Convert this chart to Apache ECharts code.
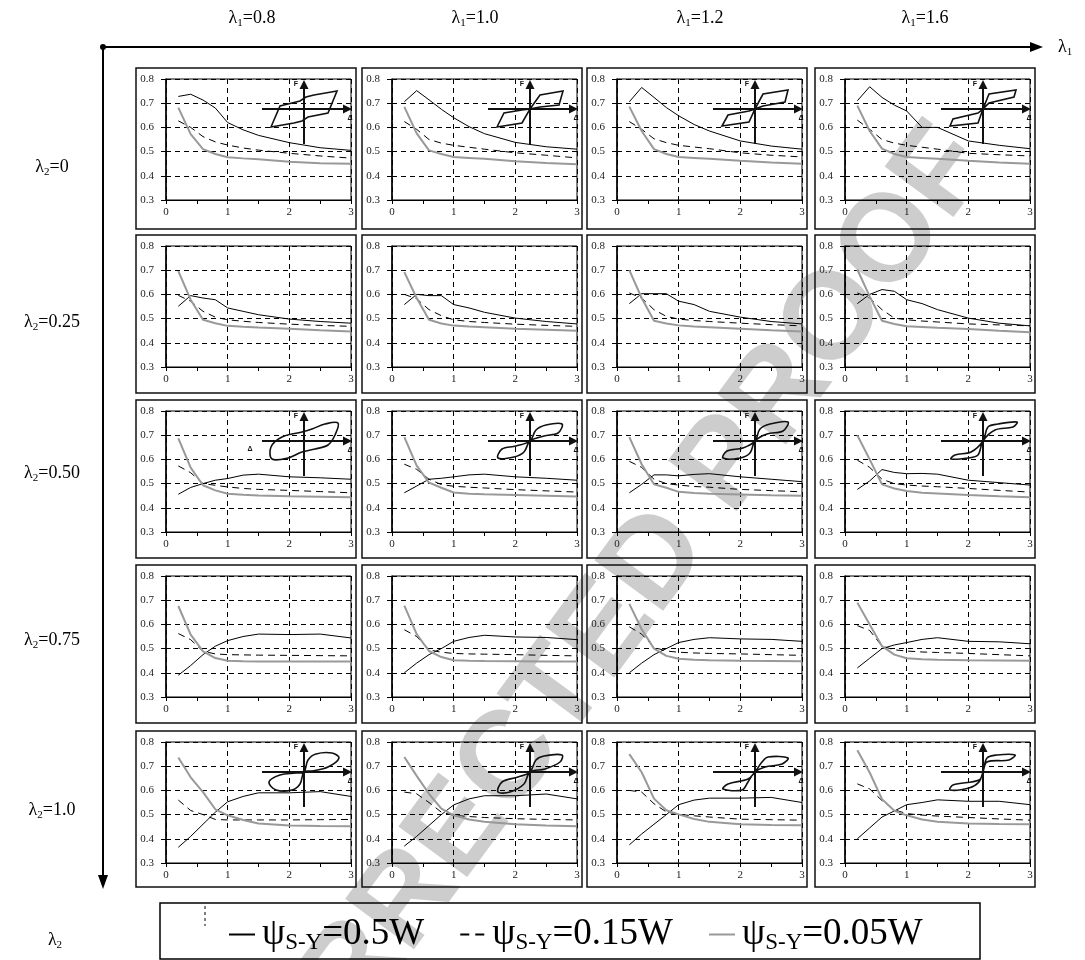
<!DOCTYPE html>
<html>
<head>
<meta charset="utf-8">
<script src="https://cdn.jsdelivr.net/npm/echarts@6/dist/echarts.min.js"></script>
<style>
  html, body { margin: 0; padding: 0; background: #fff; }
  #chart { width: 1085px; height: 960px; }
</style>
</head>
<body>
<div id="chart"></div>
<script>
// x positions of the computed points
const xs = [0.2, 0.4, 0.6, 0.8, 1.0, 1.25, 1.5, 2.0, 2.5, 3.0]
const lambda1 = ['0.8', '1.0', '1.2', '1.6']
const lambda2 = ['0', '0.25', '0.50', '0.75', '1.0']
const seriesNames = ['ψS-Y=0.5W', 'ψS-Y=0.15W', 'ψS-Y=0.05W']
const yTicks = [0.3, 0.4, 0.5, 0.6, 0.7, 0.8]
const xTicks = [0, 1, 2, 3]

// λ2 = 0
const solid_0 = [
  [0.728, 0.737, 0.713, 0.680, 0.620, 0.590, 0.567, 0.537, 0.516, 0.505],
  [0.706, 0.752, 0.714, 0.675, 0.640, 0.603, 0.574, 0.538, 0.520, 0.510],
  [0.706, 0.765, 0.724, 0.682, 0.648, 0.612, 0.585, 0.544, 0.523, 0.510],
  [0.710, 0.768, 0.724, 0.692, 0.668, 0.600, 0.600, 0.544, 0.526, 0.512]
]
const dash_0 = [
  [0.627, 0.600, 0.562, 0.540, 0.527, 0.515, 0.506, 0.493, 0.482, 0.473],
  [0.624, 0.592, 0.550, 0.535, 0.526, 0.518, 0.510, 0.495, 0.485, 0.474],
  [0.624, 0.592, 0.553, 0.537, 0.526, 0.519, 0.512, 0.495, 0.485, 0.478],
  [0.630, 0.592, 0.550, 0.535, 0.526, 0.518, 0.510, 0.493, 0.487, 0.482]
]
const gray_0 = [
  [0.682, 0.572, 0.510, 0.490, 0.477, 0.472, 0.468, 0.458, 0.452, 0.450],
  [0.685, 0.575, 0.505, 0.490, 0.478, 0.474, 0.470, 0.460, 0.453, 0.448],
  [0.686, 0.585, 0.510, 0.490, 0.478, 0.474, 0.470, 0.462, 0.455, 0.450],
  [0.690, 0.585, 0.512, 0.490, 0.478, 0.474, 0.470, 0.462, 0.455, 0.450]
]
// λ2 = 0.25
const solid_1 = [
  [0.551, 0.595, 0.585, 0.578, 0.544, 0.530, 0.516, 0.498, 0.488, 0.481],
  [0.558, 0.600, 0.595, 0.595, 0.558, 0.544, 0.526, 0.502, 0.488, 0.478],
  [0.562, 0.603, 0.603, 0.603, 0.572, 0.558, 0.530, 0.506, 0.488, 0.478],
  [0.562, 0.600, 0.620, 0.613, 0.578, 0.562, 0.537, 0.502, 0.481, 0.470]
]
const dash_1 = [
  [0.596, 0.572, 0.530, 0.506, 0.495, 0.489, 0.484, 0.477, 0.472, 0.468],
  [0.600, 0.582, 0.537, 0.512, 0.495, 0.488, 0.484, 0.477, 0.472, 0.468],
  [0.606, 0.585, 0.537, 0.509, 0.498, 0.492, 0.488, 0.481, 0.475, 0.470],
  [0.606, 0.585, 0.537, 0.502, 0.495, 0.490, 0.486, 0.478, 0.474, 0.470]
]
const gray_1 = [
  [0.696, 0.578, 0.495, 0.481, 0.470, 0.466, 0.463, 0.458, 0.452, 0.447],
  [0.692, 0.585, 0.495, 0.480, 0.471, 0.467, 0.464, 0.458, 0.454, 0.450],
  [0.700, 0.585, 0.491, 0.480, 0.472, 0.467, 0.464, 0.458, 0.452, 0.447],
  [0.703, 0.592, 0.491, 0.478, 0.468, 0.465, 0.462, 0.457, 0.450, 0.444]
]
// λ2 = 0.50
const solid_2 = [
  [0.456, 0.484, 0.500, 0.514, 0.521, 0.535, 0.539, 0.528, 0.524, 0.518],
  [0.462, 0.490, 0.518, 0.522, 0.528, 0.536, 0.539, 0.528, 0.522, 0.514],
  [0.462, 0.497, 0.536, 0.536, 0.532, 0.538, 0.541, 0.528, 0.518, 0.508],
  [0.476, 0.511, 0.558, 0.546, 0.541, 0.542, 0.539, 0.514, 0.504, 0.494]
]
const dash_2 = [
  [0.573, 0.545, 0.500, 0.493, 0.486, 0.480, 0.476, 0.472, 0.467, 0.462],
  [0.580, 0.559, 0.518, 0.496, 0.489, 0.485, 0.482, 0.475, 0.470, 0.465],
  [0.592, 0.567, 0.518, 0.500, 0.494, 0.488, 0.485, 0.476, 0.471, 0.466],
  [0.597, 0.567, 0.518, 0.500, 0.494, 0.490, 0.487, 0.480, 0.472, 0.465]
]
const gray_2 = [
  [0.687, 0.566, 0.493, 0.472, 0.458, 0.454, 0.451, 0.448, 0.446, 0.444],
  [0.692, 0.574, 0.504, 0.483, 0.463, 0.458, 0.456, 0.453, 0.450, 0.447],
  [0.692, 0.580, 0.497, 0.483, 0.466, 0.461, 0.458, 0.455, 0.452, 0.450],
  [0.700, 0.600, 0.497, 0.480, 0.469, 0.462, 0.459, 0.453, 0.448, 0.444]
]
// λ2 = 0.75
const solid_3 = [
  [0.390, 0.430, 0.475, 0.510, 0.533, 0.550, 0.560, 0.558, 0.560, 0.544],
  [0.400, 0.440, 0.475, 0.500, 0.530, 0.546, 0.555, 0.548, 0.546, 0.537],
  [0.400, 0.440, 0.475, 0.500, 0.525, 0.538, 0.545, 0.540, 0.538, 0.530],
  [0.420, 0.460, 0.500, 0.515, 0.525, 0.538, 0.545, 0.530, 0.528, 0.520]
]
const dash_3 = [
  [0.562, 0.537, 0.489, 0.478, 0.475, 0.474, 0.473, 0.472, 0.471, 0.470],
  [0.578, 0.550, 0.495, 0.485, 0.480, 0.478, 0.477, 0.475, 0.472, 0.470],
  [0.590, 0.560, 0.505, 0.490, 0.485, 0.482, 0.480, 0.478, 0.475, 0.472],
  [0.595, 0.575, 0.510, 0.495, 0.490, 0.486, 0.484, 0.480, 0.475, 0.470]
]
const gray_3 = [
  [0.676, 0.558, 0.489, 0.461, 0.450, 0.448, 0.447, 0.447, 0.447, 0.447],
  [0.678, 0.560, 0.490, 0.465, 0.452, 0.450, 0.449, 0.448, 0.447, 0.447],
  [0.685, 0.580, 0.500, 0.470, 0.458, 0.454, 0.452, 0.450, 0.449, 0.448],
  [0.690, 0.600, 0.510, 0.475, 0.460, 0.456, 0.454, 0.452, 0.451, 0.450]
]
// λ2 = 1.0
const solid_4 = [
  [0.365, 0.410, 0.460, 0.510, 0.553, 0.575, 0.590, 0.590, 0.595, 0.575],
  [0.370, 0.410, 0.455, 0.500, 0.540, 0.565, 0.578, 0.578, 0.585, 0.565],
  [0.375, 0.420, 0.460, 0.500, 0.541, 0.560, 0.568, 0.568, 0.571, 0.550],
  [0.400, 0.445, 0.490, 0.515, 0.541, 0.550, 0.561, 0.555, 0.555, 0.541]
]
const dash_4 = [
  [0.560, 0.517, 0.500, 0.480, 0.478, 0.478, 0.478, 0.478, 0.479, 0.480],
  [0.593, 0.586, 0.550, 0.510, 0.497, 0.492, 0.488, 0.483, 0.480, 0.478],
  [0.600, 0.593, 0.545, 0.511, 0.501, 0.495, 0.490, 0.481, 0.479, 0.477],
  [0.627, 0.606, 0.558, 0.520, 0.504, 0.498, 0.494, 0.488, 0.482, 0.477]
]
const gray_4 = [
  [0.736, 0.654, 0.593, 0.522, 0.497, 0.478, 0.463, 0.455, 0.453, 0.452],
  [0.738, 0.660, 0.586, 0.525, 0.497, 0.480, 0.470, 0.460, 0.455, 0.452],
  [0.750, 0.675, 0.566, 0.518, 0.501, 0.482, 0.470, 0.460, 0.457, 0.456],
  [0.766, 0.674, 0.564, 0.516, 0.497, 0.480, 0.470, 0.463, 0.461, 0.460]
]

const solidRows = [solid_0, solid_1, solid_2, solid_3, solid_4]
const dashRows = [dash_0, dash_1, dash_2, dash_3, dash_4]
const grayRows = [gray_0, gray_1, gray_2, gray_3, gray_4]

// layout of the panels
const colLeft = [136, 362, 587, 815]
const rowTop = [68, 235, 400, 565, 731]
const boxH = [161, 158, 158, 158, 156]
const boxW = 220
const plotW = 185, plotH = 121

// hysteresis sketches (offsets from the sketch axes crossing)
const loops = {
  0: [
    [[-33,18],[-24,-3],[-4,-8],[2,-12],[10,-14],[33,-18],[24,4],[4,8],[-2,12],[-10,14]],
    [[-33,18],[-26,4],[-8,1],[0,0],[10,-14],[33,-18],[29,-4],[10,-2],[0,0],[-8,14]],
    [[-33,17],[-27,6],[-6,2],[0,0],[8,-15],[33,-19],[30,-7],[8,-3],[0,0],[-6,13]],
    [[-33,17],[-30,10],[-5,4],[0,0],[6,-15],[33,-19],[31,-12],[6,-6],[0,0],[-5,14]]
  ],
  2: [
    [[-32,18],[-33,6],[-22,-4],[-2,-9],[8,-12],[21,-17],[34,-18],[31,-6],[24,4],[11,8],[-2,11],[-16,17]],
    [[0,0],[6,-11],[16,-16],[32,-17],[28,-8],[14,-5],[0,0],[-6,11],[-16,16],[-32,17],[-28,8],[-14,5]],
    [[0,0],[5,-12],[15,-17],[33,-19],[28,-10],[12,-7],[0,0],[-5,12],[-15,17],[-32,17],[-28,10],[-12,7]],
    [[0,0],[5,-14],[15,-17],[34,-19],[30,-14],[12,-11],[0,0],[-5,14],[-15,17],[-32,18],[-28,14],[-12,11]]
  ],
  4: [
    [[0,0],[4,-12],[12,-18],[28,-19],[35,-14],[24,-5],[8,-1],[0,0],[-4,12],[-12,18],[-28,18],[-35,10],[-24,3],[-8,1]],
    [[0,0],[6,-12],[14,-16],[32,-17],[30,-10],[15,-3],[0,0],[-6,12],[-20,20],[-32,20],[-28,10],[-12,5]],
    [[0,0],[7,-10],[13,-15],[33,-14],[27,-8],[10,-5],[0,0],[-7,10],[-13,18],[-32,17],[-27,12],[-7,7]],
    [[0,0],[4,-14],[14,-17],[32,-17],[26,-12],[4,-10],[0,0],[-4,10],[-14,16],[-33,18],[-30,13],[-4,8]]
  ]
}

const FONT = 'Liberation Serif'

function subText(main, sub, rest, size) {
  return {
    text: '{a|' + main + '}{s|' + sub + '}{a|' + rest + '}',
    rich: {
      a: { fontFamily: FONT, fontSize: size, fill: '#000', lineHeight: size + 4, verticalAlign: 'middle' },
      s: { fontFamily: FONT, fontSize: Math.round(size * 0.62), fill: '#000', lineHeight: Math.round(size * 0.62), verticalAlign: 'bottom' }
    }
  }
}

const grids = [], xAxes = [], yAxes = [], series = [], graphic = []

// watermark, behind everything
graphic.push({
  type: 'text', x: 592, y: 650, rotation: 0.936, z: -10, silent: true,
  style: { text: 'CORRECTED PROOF', fontFamily: 'Liberation Sans', fontWeight: 'bold', fontSize: 124,
    fill: '#cdcdcd', align: 'center', verticalAlign: 'middle' }
})

for (let r = 0; r < 5; r++) {
  for (let c = 0; c < 4; c++) {
    const g = r * 4 + c
    const px = colLeft[c] + 30, py = rowTop[r] + 11
    grids.push({ left: px, top: py, width: plotW, height: plotH, show: true,
      borderColor: '#000', borderWidth: 1, backgroundColor: 'transparent' })
    xAxes.push({
      type: 'value', gridIndex: g, min: xTicks[0], max: xTicks[xTicks.length - 1], interval: 1,
      axisLine: { show: true, onZero: false, lineStyle: { color: '#000', width: 1 } },
      axisTick: { show: true, length: 4, lineStyle: { color: '#000' } },
      minorTick: { show: true, splitNumber: 2, length: 4, lineStyle: { color: '#000' } },
      axisLabel: { fontFamily: FONT, fontSize: 11, color: '#222', margin: 7 },
      splitLine: { show: true, lineStyle: { color: '#000', width: 1, type: [5, 4] } }
    })
    yAxes.push({
      type: 'value', gridIndex: g, min: yTicks[0], max: yTicks[yTicks.length - 1], interval: 0.1,
      axisLine: { show: true, onZero: false, lineStyle: { color: '#000', width: 1.5 } },
      axisTick: { show: true, length: 5, lineStyle: { color: '#000' } },
      axisLabel: { fontFamily: FONT, fontSize: 11, color: '#222', margin: 12,
        formatter: v => v.toFixed(1) },
      splitLine: { show: true, lineStyle: { color: '#000', width: 1, type: [5, 4] } }
    })
    const common = { type: 'line', xAxisIndex: g, yAxisIndex: g, symbol: 'none', silent: true }
    series.push(Object.assign({}, common, {
      name: seriesNames[0], z: 3,
      data: xs.map((x, i) => [x, solidRows[r][c][i]]),
      lineStyle: { color: '#000', width: 1 }, itemStyle: { color: '#000' }
    }))
    series.push(Object.assign({}, common, {
      name: seriesNames[1], z: 3,
      data: xs.map((x, i) => [x, dashRows[r][c][i]]),
      lineStyle: { color: '#000', width: 1, type: [7, 5] }, itemStyle: { color: '#000' }
    }))
    series.push(Object.assign({}, common, {
      name: seriesNames[2], z: 4,
      data: xs.map((x, i) => [x, grayRows[r][c][i]]),
      lineStyle: { color: '#999', width: 2 }, itemStyle: { color: '#999' }
    }))

    // panel frame
    graphic.push({ type: 'rect', silent: true, z: 5,
      shape: { x: colLeft[c], y: rowTop[r], width: boxW, height: boxH[r] },
      style: { fill: 'none', stroke: '#111', lineWidth: 1.5 } })

    // hysteresis sketch
    if (loops[r]) {
      const cx = px + 138, cy = py + 30
      const pts = loops[r][c].map(p => [cx + p[0], cy + p[1]])
      graphic.push({ type: 'polygon', silent: true, z: 6,
        shape: { points: pts, smooth: r === 0 ? 0 : 0.35 },
        style: { fill: 'none', stroke: '#111', lineWidth: 1.6 } })
      graphic.push({ type: 'line', silent: true, z: 6,
        shape: { x1: px + 96, y1: cy, x2: px + 178, y2: cy },
        style: { stroke: '#111', lineWidth: 2 } })
      graphic.push({ type: 'polygon', silent: true, z: 6,
        shape: { points: [[px + 186, cy], [px + 177, cy - 4.5], [px + 177, cy + 4.5]] },
        style: { fill: '#111' } })
      graphic.push({ type: 'line', silent: true, z: 6,
        shape: { x1: cx, y1: py + 10, x2: cx, y2: py + 65 },
        style: { stroke: '#111', lineWidth: 2 } })
      graphic.push({ type: 'polygon', silent: true, z: 6,
        shape: { points: [[cx, py + 1], [cx - 4.5, py + 10], [cx + 4.5, py + 10]] },
        style: { fill: '#111' } })
      graphic.push({ type: 'text', silent: true, z: 6, x: cx - 8, y: py + 5,
        style: { text: 'F', fontFamily: 'Liberation Sans', fontWeight: 'bold', fontSize: 7, fill: '#111',
          align: 'center', verticalAlign: 'middle' } })
      graphic.push({ type: 'text', silent: true, z: 6, x: px + 184, y: cy + 9,
        style: { text: 'Δ', fontFamily: 'Liberation Sans', fontWeight: 'bold', fontSize: 7, fill: '#111',
          align: 'center', verticalAlign: 'middle' } })
      if (r === 2 && c === 0) {
        graphic.push({ type: 'text', silent: true, z: 6, x: px + 84, y: cy + 8,
          style: { text: 'Δ', fontFamily: 'Liberation Sans', fontWeight: 'bold', fontSize: 7, fill: '#111',
            align: 'center', verticalAlign: 'middle' } })
      }
    }
  }
}

// main λ1 / λ2 axes
graphic.push({ type: 'line', silent: true, shape: { x1: 103, y1: 47, x2: 1032, y2: 47 },
  style: { stroke: '#000', lineWidth: 2 } })
graphic.push({ type: 'polygon', silent: true, shape: { points: [[1043, 47], [1030, 42], [1030, 52]] },
  style: { fill: '#000' } })
graphic.push({ type: 'circle', silent: true, shape: { cx: 103, cy: 47, r: 3 }, style: { fill: '#000' } })
graphic.push({ type: 'line', silent: true, shape: { x1: 103, y1: 47, x2: 103, y2: 876 },
  style: { stroke: '#000', lineWidth: 2 } })
graphic.push({ type: 'polygon', silent: true, shape: { points: [[103, 889], [98, 875], [108, 875]] },
  style: { fill: '#000' } })

graphic.push({ type: 'text', silent: true, x: 1058, y: 47,
  style: Object.assign(subText('λ', '1', '', 18), { align: 'left', verticalAlign: 'middle' }) })
graphic.push({ type: 'text', silent: true, x: 55, y: 940,
  style: Object.assign(subText('λ', '2', '', 18), { align: 'center', verticalAlign: 'middle' }) })

const headerX = [252, 475, 700, 925]
lambda1.forEach((v, c) => {
  graphic.push({ type: 'text', silent: true, x: headerX[c], y: 18,
    style: Object.assign(subText('λ', '1', '=' + v, 18), { align: 'center', verticalAlign: 'middle' }) })
})
const rowLabelY = [167, 322, 473, 640, 810]
lambda2.forEach((v, r) => {
  graphic.push({ type: 'text', silent: true, x: 52, y: rowLabelY[r],
    style: Object.assign(subText('λ', '2', '=' + v, 18), { align: 'center', verticalAlign: 'middle' }) })
})

// legend frame
graphic.push({ type: 'rect', silent: true, shape: { x: 160, y: 903, width: 820, height: 56 },
  style: { fill: 'none', stroke: '#000', lineWidth: 1.5 } })
graphic.push({ type: 'line', silent: true, shape: { x1: 205, y1: 906, x2: 205, y2: 926 },
  style: { stroke: '#000', lineWidth: 1, lineDash: [3, 3] } })

const chart = echarts.init(document.getElementById('chart'))
chart.setOption({
  animation: false,
  backgroundColor: '#fff',
  grid: grids,
  xAxis: xAxes,
  yAxis: yAxes,
  series: series,
  graphic: graphic,
  legend: {
    left: 224, top: 911, itemWidth: 26, itemHeight: 2, itemGap: 36, selectedMode: false,
    data: [
      { name: seriesNames[0], icon: 'rect', itemStyle: { color: '#000' } },
      { name: seriesNames[1], icon: 'path://M0,0h9v2h-9zM15,0h9v2h-9z', itemStyle: { color: '#000' } },
      { name: seriesNames[2], icon: 'rect', itemStyle: { color: '#999' } }
    ],
    formatter: n => '{a|ψ}{s|S-Y}{a|=' + n.split('=')[1] + '}',
    textStyle: {
      padding: [0, 0, 0, 2],
      rich: {
        a: { fontFamily: FONT, fontSize: 37, color: '#000', lineHeight: 40, verticalAlign: 'middle' },
        s: { fontFamily: FONT, fontSize: 23, color: '#000', lineHeight: 23, verticalAlign: 'bottom' }
      }
    }
  }
})
</script>
</body>
</html>
